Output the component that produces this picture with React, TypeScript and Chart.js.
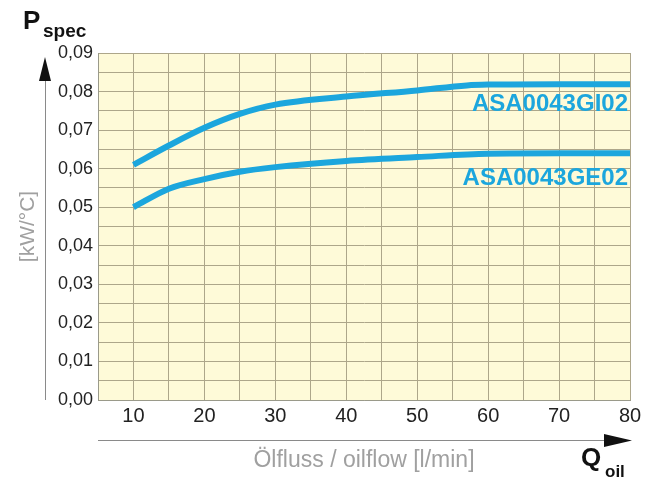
import React, { useEffect, useRef } from "react";
import { Chart, registerables } from "chart.js";

Chart.register(...registerables);

const flowGI02 = [10, 15, 20, 25, 30, 40, 50, 57, 60, 70, 80];
const pspecGI02 = [0.061, 0.066, 0.0706, 0.0742, 0.0766, 0.0787, 0.0803, 0.0816, 0.0818, 0.0819, 0.0819];
const flowGE02 = [10, 15, 20, 25, 30, 40, 50, 60, 70, 80];
const pspecGE02 = [0.050, 0.0548, 0.0573, 0.0592, 0.0604, 0.062, 0.063, 0.0639, 0.064, 0.064];
const seriesNames = ["ASA0043GI02", "ASA0043GE02"];
const xTitle = "Ölfluss / oilflow [l/min]";
const yTitle = "[kW/°C]";

const FONT = "'Liberation Sans', Arial, sans-serif";
const BLUE = "#1ca6dd";

export default function App() {
  const ref = useRef<HTMLCanvasElement | null>(null);

  useEffect(() => {
    if (!ref.current) return;
    const bgPlugin = {
      id: "bg",
      beforeDraw(chart: any) {
        const { ctx, chartArea: a } = chart;
        ctx.save();
        ctx.fillStyle = "#ffffff";
        ctx.fillRect(0, 0, chart.width, chart.height);
        ctx.fillStyle = "#fefad8";
        ctx.fillRect(a.left, a.top, a.right - a.left, a.bottom - a.top);
        ctx.restore();
      },
      afterDraw(chart: any) {
        const { ctx, chartArea: a } = chart;
        const ys = chart.scales.y;
        ctx.save();
        // series labels
        ctx.fillStyle = BLUE;
        ctx.font = `bold 24px ${FONT}`;
        ctx.textAlign = "right";
        ctx.textBaseline = "middle";
        ctx.fillText(seriesNames[0], a.right - 2, ys.getPixelForValue(pspecGI02[pspecGI02.length - 1]) + 20);
        ctx.fillText(seriesNames[1], a.right - 2, ys.getPixelForValue(pspecGE02[pspecGE02.length - 1]) + 25);
        // vertical arrow
        ctx.strokeStyle = "#8a8a8a";
        ctx.lineWidth = 1;
        ctx.beginPath();
        ctx.moveTo(45.5, 78);
        ctx.lineTo(45.5, a.bottom);
        ctx.stroke();
        ctx.fillStyle = "#111";
        ctx.beginPath();
        ctx.moveTo(45, 57);
        ctx.lineTo(51, 81);
        ctx.lineTo(39, 81);
        ctx.closePath();
        ctx.fill();
        // horizontal arrow
        ctx.beginPath();
        ctx.strokeStyle = "#8a8a8a";
        ctx.moveTo(a.left, 440.5);
        ctx.lineTo(608, 440.5);
        ctx.stroke();
        ctx.beginPath();
        ctx.moveTo(632, 440.5);
        ctx.lineTo(604, 434);
        ctx.lineTo(604, 447);
        ctx.closePath();
        ctx.fill();
        // P spec
        ctx.fillStyle = "#111";
        ctx.textAlign = "left";
        ctx.textBaseline = "alphabetic";
        ctx.font = `bold 26px ${FONT}`;
        ctx.fillText("P", 23, 29);
        ctx.font = `bold 19px ${FONT}`;
        ctx.fillText("spec", 43, 37);
        // Q oil
        ctx.font = `bold 26px ${FONT}`;
        ctx.fillText("Q", 581, 466);
        ctx.font = `bold 17px ${FONT}`;
        ctx.fillText("oil", 605, 477);
        ctx.restore();
      },
    };

    const chart = new Chart(ref.current, {
      type: "line",
      data: {
        datasets: [
          {
            label: seriesNames[0],
            data: flowGI02.map((x, i) => ({ x, y: pspecGI02[i] })),
            borderColor: BLUE,
            borderWidth: 6,
            pointRadius: 0,
            cubicInterpolationMode: "monotone",
            fill: false,
          },
          {
            label: seriesNames[1],
            data: flowGE02.map((x, i) => ({ x, y: pspecGE02[i] })),
            borderColor: BLUE,
            borderWidth: 6,
            pointRadius: 0,
            cubicInterpolationMode: "monotone",
            fill: false,
          },
        ],
      },
      plugins: [bgPlugin],
      options: {
        responsive: false,
        animation: false,
        devicePixelRatio: 1,
        layout: { padding: { top: 53, right: 29, bottom: 0, left: 0 } },
        plugins: { legend: { display: false }, tooltip: { enabled: false } },
        scales: {
          x: {
            type: "linear",
            min: 5,
            max: 80,
            afterFit: (s: any) => {
              s.height = 79;
            },
            afterBuildTicks: (s: any) => {
              const t = [];
              for (let v = 5; v <= 80; v += 5) t.push({ value: v });
              s.ticks = t;
            },
            ticks: {
              autoSkip: false,
              maxRotation: 0,
              padding: 4,
              color: "#222222",
              font: { family: FONT, size: 20 },
              callback: (v: any) => (v % 10 === 0 ? String(v) : ""),
            },
            grid: { color: "#ada68a", lineWidth: 1, drawTicks: false },
            border: { color: "#9a9a8a", width: 1 },
            title: {
              display: true,
              text: xTitle,
              color: "#a0a0a0",
              font: { family: FONT, size: 23 },
              padding: { top: 0, bottom: 5 },
            },
          },
          y: {
            type: "linear",
            min: 0,
            max: 0.09,
            afterFit: (s: any) => {
              s.width = 98;
            },
            afterBuildTicks: (s: any) => {
              const t = [];
              for (let i = 0; i <= 18; i++) t.push({ value: i * 0.005 });
              s.ticks = t;
            },
            ticks: {
              autoSkip: false,
              padding: 5,
              color: "#222222",
              font: { family: FONT, size: 18 },
              callback: (v: any) => {
                const n = Math.round(v * 1000);
                return n % 10 === 0 ? (n / 1000).toFixed(2).replace(".", ",") : "";
              },
            },
            grid: { color: "#ada68a", lineWidth: 1, drawTicks: false },
            border: { color: "#9a9a8a", width: 1 },
            title: {
              display: true,
              text: yTitle,
              color: "#a0a0a0",
              font: { family: FONT, size: 21 },
              padding: { top: 16, bottom: 0 },
            },
          },
        },
      },
    } as any);
    return () => chart.destroy();
  }, []);

  return (
    <div style={{ position: "absolute", left: 0, top: 0, width: 659, height: 479, background: "#fff" }}>
      <canvas ref={ref} width={659} height={479} />
    </div>
  );
}
